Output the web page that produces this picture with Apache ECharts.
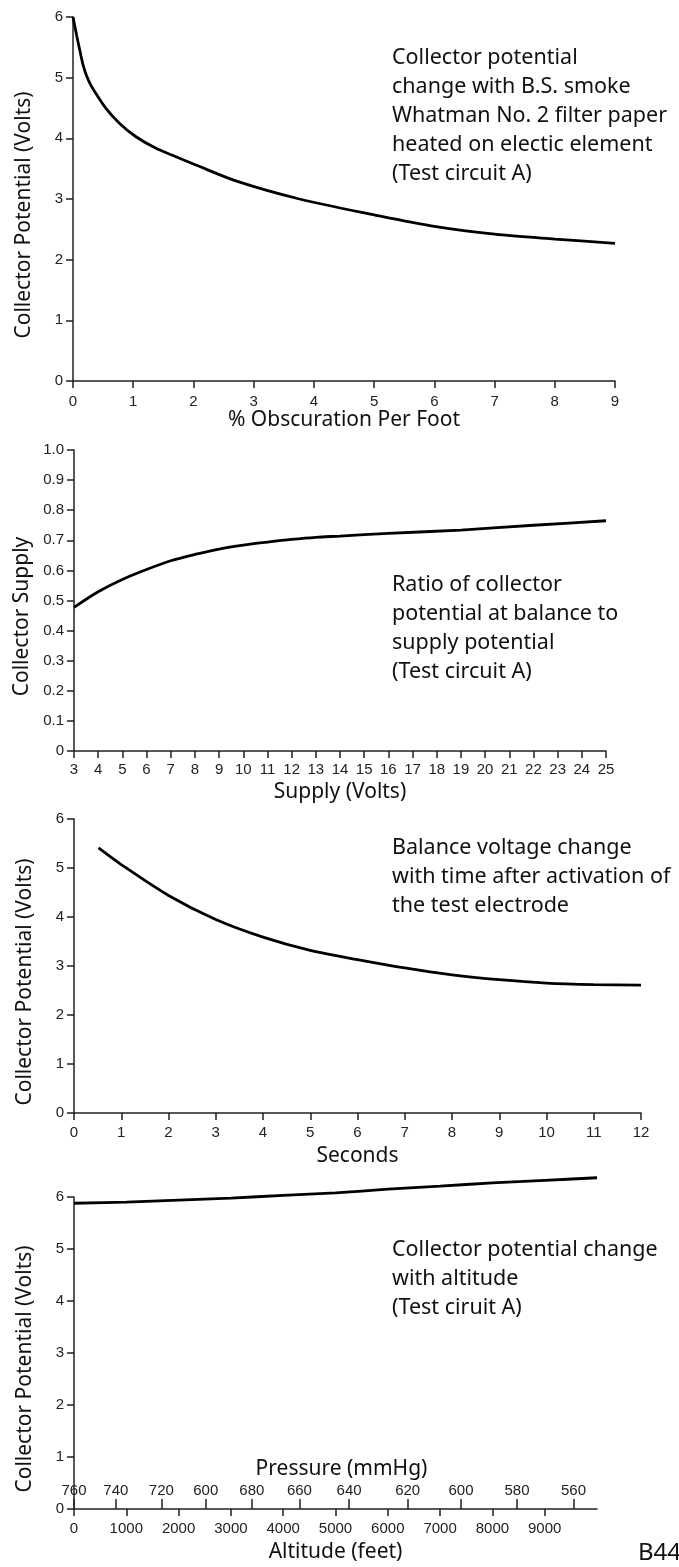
<!DOCTYPE html>
<html><head><meta charset="utf-8">
<script src="https://cdn.jsdelivr.net/npm/echarts@6/dist/echarts.min.js"></script>
<style>html,body{margin:0;padding:0;background:#fff}#c{width:679px;height:1567px}</style>
</head><body><div id="c"></div>
<script>
// Chart 1: collector potential vs % obscuration
const obscX = [0, 0.06, 0.12, 0.17, 0.23, 0.30, 0.38, 0.55, 0.77, 1.04, 1.37, 1.7, 2.04, 2.73, 3.76, 5, 6, 7, 8, 9];
const obscV = [6.0, 5.70, 5.42, 5.20, 5.02, 4.87, 4.74, 4.49, 4.25, 4.03, 3.84, 3.70, 3.56, 3.29, 3.00, 2.74, 2.55, 2.42, 2.34, 2.27];
// Chart 2: ratio vs supply volts
const supplyX = [3, 4, 5, 6, 7, 8, 9, 10, 11, 12, 13, 14, 16, 19, 22, 25];
const ratioV = [0.477, 0.529, 0.570, 0.603, 0.632, 0.653, 0.671, 0.684, 0.694, 0.703, 0.710, 0.714, 0.723, 0.734, 0.750, 0.765];
// Chart 3: balance voltage vs seconds
const secX = [0.52, 1, 2, 3, 4, 5, 6, 7, 8, 9, 10, 11, 12];
const secV = [5.41, 5.07, 4.44, 3.95, 3.59, 3.32, 3.13, 2.96, 2.82, 2.72, 2.65, 2.62, 2.61];
// Chart 4: collector potential vs altitude
const altX = [0, 1000, 2000, 3000, 4000, 5000, 6000, 7000, 8000, 9000, 10000];
const altV = [5.88, 5.90, 5.94, 5.98, 6.03, 6.08, 6.15, 6.21, 6.27, 6.32, 6.37];
// Pressure scale (mmHg) printed above the altitude axis, at these altitudes
const pressureLabels = ['760', '740', '720', '600', '680', '660', '640', '620', '600', '580', '560'];
const pressureAlt = [0, 800, 1670, 2520, 3400, 4310, 5260, 6380, 7400, 8470, 9550];

const notes = [
  'Collector potential\nchange with B.S. smoke\nWhatman No. 2 filter paper\nheated on electic element\n(Test circuit A)',
  'Ratio of collector\npotential at balance to\nsupply potential\n(Test circuit A)',
  'Balance voltage change\nwith time after activation of\nthe test electrode',
  'Collector potential change\nwith altitude\n(Test ciruit A)'
];

const AX = '#231f20';
const tickFont = {fontFamily: '"Liberation Sans", Arial, sans-serif', fontSize: 15, color: '#222'};
const nameFont = {fontFamily: '"Noto Sans", sans-serif', fontSize: 21, color: '#111'};
const noteStyle = {fontFamily: '"Noto Sans", sans-serif', fontSize: 21.5, lineHeight: 29, fill: '#111'};

function xAx(grid, min, max, interval, name, gap, margin, extra) {
  return Object.assign({
    type: 'value', gridIndex: grid, min, max, interval, name, nameLocation: 'middle', nameGap: gap,
    nameTextStyle: nameFont,
    axisLine: {show: true, lineStyle: {color: AX, width: 1.5}},
    axisTick: {show: true, length: 7, lineStyle: {color: AX, width: 1.5}},
    axisLabel: Object.assign({margin}, tickFont),
    splitLine: {show: false}
  }, extra || {});
}
function yAx(grid, min, max, interval, name, fmt) {
  return {
    type: 'value', gridIndex: grid, min, max, interval, name, nameLocation: 'middle', nameGap: 38, nameRotate: 90,
    nameTextStyle: Object.assign({padding: [0, 32, 0, 0]}, nameFont),
    axisLine: {show: true, lineStyle: {color: AX, width: 1.5}},
    axisTick: {show: true, length: 7, lineStyle: {color: AX, width: 1.5}},
    axisLabel: Object.assign({margin: 10, formatter: fmt}, tickFont),
    splitLine: {show: false}
  };
}
function pairs(xs, ys) { return xs.map((x, i) => [x, ys[i]]); }
function line(xi, yi, xs, ys) {
  return {type: 'line', xAxisIndex: xi, yAxisIndex: yi, data: pairs(xs, ys), smooth: 0.3,
    showSymbol: false, clip: false, lineStyle: {color: '#000', width: 2.8}, animation: false};
}

const option = {
  animation: false,
  grid: [
    {left: 73, top: 17, width: 542, height: 364},
    {left: 74, top: 450, width: 532, height: 301},
    {left: 74, top: 819, width: 567, height: 294},
    {left: 74, top: 1197, width: 523, height: 312}
  ],
  xAxis: [
    xAx(0, 0, 9, 1, '% Obscuration Per Foot', 28, 13),
    xAx(1, 3, 25, 1, 'Supply (Volts)', 31, 11),
    xAx(2, 0, 12, 1, 'Seconds', 33, 12),
    xAx(3, 0, 10000, 1000, 'Altitude (feet)', 33, 12,
      {axisLabel: Object.assign({margin: 12, showMaxLabel: false, formatter: v => String(v)}, tickFont)}),
    {
      type: 'value', gridIndex: 3, min: 0, max: 10000, position: 'bottom',
      name: 'Pressure (mmHg)', nameLocation: 'middle', nameGap: -50,
      nameTextStyle: Object.assign({padding: [0, 0, 0, 12]}, nameFont),
      axisLine: {show: false},
      axisTick: {show: true, inside: true, length: 10, customValues: pressureAlt, lineStyle: {color: AX, width: 1.5}},
      axisLabel: Object.assign({inside: true, margin: 11, customValues: pressureAlt,
        formatter: v => { const i = pressureAlt.indexOf(v); return i >= 0 ? pressureLabels[i] : ''; }}, tickFont),
      splitLine: {show: false}
    }
  ],
  yAxis: [
    yAx(0, 0, 6, 1, 'Collector Potential (Volts)'),
    yAx(1, 0, 1, 0.1, 'Collector Supply', v => v === 0 ? '0' : v.toFixed(1)),
    yAx(2, 0, 6, 1, 'Collector Potential (Volts)'),
    yAx(3, 0, 6, 1, 'Collector Potential (Volts)')
  ],
  series: [
    line(0, 0, obscX, obscV),
    line(1, 1, supplyX, ratioV),
    line(2, 2, secX, secV),
    line(3, 3, altX, altV)
  ],
  graphic: [
    {type: 'text', left: 392, top: 43, style: Object.assign({text: notes[0]}, noteStyle)},
    {type: 'text', left: 392, top: 570, style: Object.assign({text: notes[1]}, noteStyle)},
    {type: 'text', left: 392, top: 833, style: Object.assign({text: notes[2]}, noteStyle)},
    {type: 'text', left: 392, top: 1235, style: Object.assign({text: notes[3]}, noteStyle)},
    {type: 'text', left: 638, top: 1541, style: {text: 'B44', fontFamily: '"Noto Sans", sans-serif', fontSize: 24, fill: '#111'}}
  ]
};
const chart = echarts.init(document.getElementById('c'), null, {renderer: 'canvas'});
chart.setOption(option);
</script></body></html>
